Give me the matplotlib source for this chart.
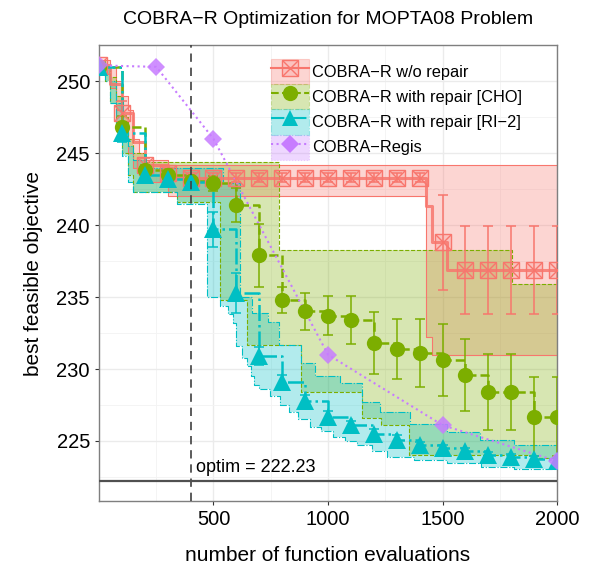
import numpy as np
import matplotlib
matplotlib.use("Agg")
import matplotlib.pyplot as plt
from matplotlib.patches import Patch
from matplotlib.lines import Line2D

plt.rcParams['font.family'] = ['Liberation Sans', 'DejaVu Sans']

# ======== Data ========
evals = np.arange(0, 2001, 100)

# COBRA-R w/o repair
red_mean = [251.1, 247.8, 244.2, 243.6, 243.3, 243.3, 243.3, 243.3, 243.3, 243.3, 243.3,
            243.3, 243.3, 243.3, 243.3, 238.8, 236.9, 236.9, 236.9, 236.9, 236.9]
red_sd = [0.2, 0.8, 0.5, 0.4, 0.3, 0.3, 0.3, 0.3, 0.3, 0.3, 0.3,
          0.3, 0.3, 0.3, 0.3, 3.3, 3.05, 3.05, 3.05, 3.05, 3.05]
red_line_x = [0, 50, 100, 150, 200, 300, 1428, 1455, 1520, 2000]
red_line_y = [251.1, 249.8, 247.8, 245.8, 244.2, 243.3, 241.3, 238.8, 236.9, 236.9]
red_hi_x = [0, 25, 50, 75, 100, 125, 150, 175, 200, 300, 2000]
red_hi = [251.5, 251.5, 251.0, 250.0, 249.0, 248.0, 246.0, 245.0, 244.5, 244.2, 244.2]
red_lo_x = [0, 25, 50, 75, 100, 125, 150, 175, 200, 300, 1428, 1455, 2000]
red_lo = [251.0, 250.5, 249.5, 248.0, 246.5, 245.0, 244.0, 243.5, 243.0, 242.0, 232.2, 231.0, 231.0]

# COBRA-R with repair [CHO]
grn_mean = [251.0, 246.8, 243.8, 243.5, 243.1, 242.9, 241.4, 237.9, 234.8, 234.0, 233.7,
            233.4, 231.8, 231.4, 231.1, 230.6, 229.6, 228.4, 228.4, 226.7, 226.7]
grn_sd = [0.2, 0.8, 0.4, 0.4, 0.4, 0.5, 1.2, 2.2, 0.9, 1.3, 1.35,
          1.65, 2.15, 2.1, 2.35, 2.5, 2.5, 2.65, 2.65, 2.75, 2.75]
grn_hi_x = [0, 25, 50, 75, 100, 125, 150, 200, 784, 1802, 2000]
grn_hi = [251.4, 251.0, 250.3, 249.0, 247.5, 246.0, 245.0, 244.4, 238.3, 235.9, 235.9]
grn_lo_x = [0, 25, 50, 75, 100, 125, 150, 340, 530, 646, 880, 1148, 1230, 1352, 1900, 2000]
grn_lo = [251.0, 250.0, 248.5, 246.5, 245.0, 243.5, 242.3, 241.6, 234.8, 231.7, 228.4,
          226.6, 226.1, 224.0, 223.8, 223.8]

# COBRA-R with repair [RI-2]
cyn_mean = [251.0, 246.4, 243.5, 243.2, 243.0, 239.7, 235.3, 230.9, 229.1, 227.8, 226.7,
            226.1, 225.5, 225.1, 224.7, 224.5, 224.3, 224.0, 223.9, 223.75, 223.6]
cyn_sd = [0.2, 0.6, 0.3, 0.3, 0.3, 1.2, 1.4, 0.6, 0.5, 0.4, 0.4,
          0.3, 0.3, 0.3, 0.2, 0.2, 0.2, 0.2, 0.2, 0.2, 0.2]
cyn_hi_x = [0, 25, 50, 75, 100, 125, 150, 200, 540, 617, 668, 740, 784, 880, 945,
            1054, 1148, 1229, 1360, 1520, 1665, 1810, 2000]
cyn_hi = [251.3, 251.0, 250.0, 248.5, 247.0, 245.5, 244.5, 244.0, 242.9, 235.0, 233.9,
          233.3, 231.7, 230.4, 229.5, 229.0, 227.7, 227.0, 226.2, 225.6, 225.1, 224.7, 224.6]
cyn_lo_x = [0, 25, 50, 75, 100, 125, 150, 340, 470, 530, 565, 587, 600, 625, 646, 662,
            675, 700, 748, 790, 828, 870, 923, 970, 1024, 1075, 1127, 1190, 1258, 1374,
            1520, 1666, 1811, 2000]
cyn_lo = [251.0, 250.0, 248.5, 246.5, 244.8, 243.0, 242.3, 241.5, 235.0, 234.4, 233.8,
          233.2, 231.6, 230.8, 230.2, 229.5, 228.9, 228.6, 228.1, 227.5, 227.0, 226.5,
          226.0, 225.7, 225.3, 225.0, 224.7, 224.3, 223.9, 223.7, 223.45, 223.2, 223.05, 222.9]

# COBRA-Regis
regis_x = [0, 250, 500, 1000, 1500, 2000]
regis_y = [251.1, 251.0, 246.0, 231.0, 226.1, 223.6]

OPTIM = 222.23
INIT_EVALS = 400

RED, GRN, CYN, PUR = "#F8766D", "#7CAE00", "#00BFC4", "#C77CFF"
labels = ["COBRA\u2212R w/o repair", "COBRA\u2212R with repair [CHO]",
          "COBRA\u2212R with repair [RI\u22122]", "COBRA\u2212Regis"]


def steps(x, y):
    xs, ys = [x[0]], [y[0]]
    for i in range(1, len(x)):
        xs += [x[i], x[i]]
        ys += [y[i - 1], y[i]]
    return xs, ys


def ribbon(ax, hx, hy, lx, ly, color, ls):
    sx_h, sy_h = steps(hx, hy)
    sx_l, sy_l = steps(lx, ly)
    ax.fill(sx_h + sx_l[::-1], sy_h + sy_l[::-1], color=color, alpha=0.3, lw=0, zorder=1)
    ax.plot(sx_h, sy_h, color=color, ls=ls, lw=0.8, zorder=2)
    ax.plot(sx_l, sy_l, color=color, ls=ls, lw=0.8, zorder=2)


fig = plt.figure(figsize=(5.89, 5.73), dpi=100)
ax = fig.add_axes([0.168, 0.1257, 0.7777, 0.7953])

# ribbons (min/max of runs)
ribbon(ax, red_hi_x, red_hi, red_lo_x, red_lo, RED, "-")
ribbon(ax, grn_hi_x, grn_hi, grn_lo_x, grn_lo, GRN, "--")
ribbon(ax, cyn_hi_x, cyn_hi, cyn_lo_x, cyn_lo, CYN, "-.")

# mean lines
ax.plot(*steps(red_line_x, red_line_y), color=RED, lw=2.2, alpha=0.85, zorder=3)
ax.plot(evals, grn_mean, color=GRN, ls="--", lw=1.8, drawstyle="steps-post", zorder=3)
ax.plot(evals, cyn_mean, color=CYN, ls="-.", lw=1.8, drawstyle="steps-post", zorder=3)
ax.plot(regis_x, regis_y, color=PUR, ls=":", lw=1.5, zorder=3)

# error bars
for m, s, c in [(red_mean, red_sd, RED), (grn_mean, grn_sd, GRN), (cyn_mean, cyn_sd, CYN)]:
    ax.errorbar(evals, m, yerr=s, fmt="none", ecolor=c, elinewidth=1.1, capsize=3.5,
                capthick=1.1, zorder=4)

# markers
ax.plot(evals, red_mean, ls="none", marker="s", ms=11.5, mfc=(0.97, 0.46, 0.43, 0.2),
        mec=RED, mew=1.0, zorder=5)
ax.plot(evals, red_mean, ls="none", marker="x", ms=11.5, mec=RED, mew=1.0, zorder=5)
ax.plot(evals, grn_mean, ls="none", marker="o", ms=11, color=GRN, mew=0, zorder=5)
ax.plot(evals, cyn_mean, ls="none", marker="^", ms=12.5, color=CYN, mew=0, zorder=5)
ax.plot(regis_x, regis_y, ls="none", marker="D", ms=9.5, color=PUR, alpha=0.85, mew=0, zorder=5)

# reference lines
ax.axvline(INIT_EVALS, color="#404040", ls=(0, (5, 3.5)), lw=1.2, zorder=6)
ax.axhline(OPTIM, color="#505050", lw=1.6, zorder=6)
ax.text(INIT_EVALS + 25, OPTIM + 0.6, "optim = 222.23", fontsize=13, ha="left",
        va="baseline", zorder=7)

# axes / theme_bw look
ax.set_xlim(0, 2000)
ax.set_ylim(220.83, 252.5)
ax.set_xticks([500, 1000, 1500, 2000])
ax.set_xticks([0, 250, 750, 1250, 1750], minor=True)
ax.set_yticks([225, 230, 235, 240, 245, 250])
ax.set_yticks([222.5, 227.5, 232.5, 237.5, 242.5, 247.5, 252.5], minor=True)
ax.grid(which="major", color="#EBEBEB", lw=1.0, zorder=0)
ax.grid(which="minor", color="#F3F3F3", lw=0.6, zorder=0)
ax.set_axisbelow(True)
ax.tick_params(which="major", length=3, color="#333333", labelsize=14.5, labelcolor="black")
ax.tick_params(which="minor", length=0)
for sp in ax.spines.values():
    sp.set_color("#7F7F7F")
    sp.set_linewidth(1.0)

ax.set_xlabel("number of function evaluations", fontsize=15, labelpad=12)
ax.set_ylabel("best feasible objective", fontsize=15, labelpad=10)
ax.set_title("COBRA\u2212R Optimization for MOPTA08 Problem", fontsize=14, pad=15)

# legend
handles = []
for c, ls, mk in [(RED, "-", "s"), (GRN, "--", "o"), (CYN, "-.", "^"), (PUR, ":", "D")]:
    patch = Patch(facecolor=c, alpha=0.3, edgecolor=c, linestyle=ls, lw=0.8)
    if mk == "s":
        line = Line2D([], [], color=c, ls=ls, lw=1.5, marker="s", ms=11.5,
                      mfc=(0.97, 0.46, 0.43, 0.2), mec=c)
        cross = Line2D([], [], ls="none", marker="x", ms=11.5, mec=c)
        handles.append((patch, line, cross))
    else:
        line = Line2D([], [], color=c, ls=ls, lw=1.5, marker=mk,
                      ms=11 if mk != "D" else 9.5, mew=0)
        handles.append((patch, line))
ax.legend(handles, labels, loc="upper left", bbox_to_anchor=(0.361, 0.985),
          frameon=False, fontsize=11.8, handlelength=2.3, handleheight=2.0,
          labelspacing=0.0, handletextpad=0.2, borderaxespad=0)

fig.savefig("out.png", dpi=100)
